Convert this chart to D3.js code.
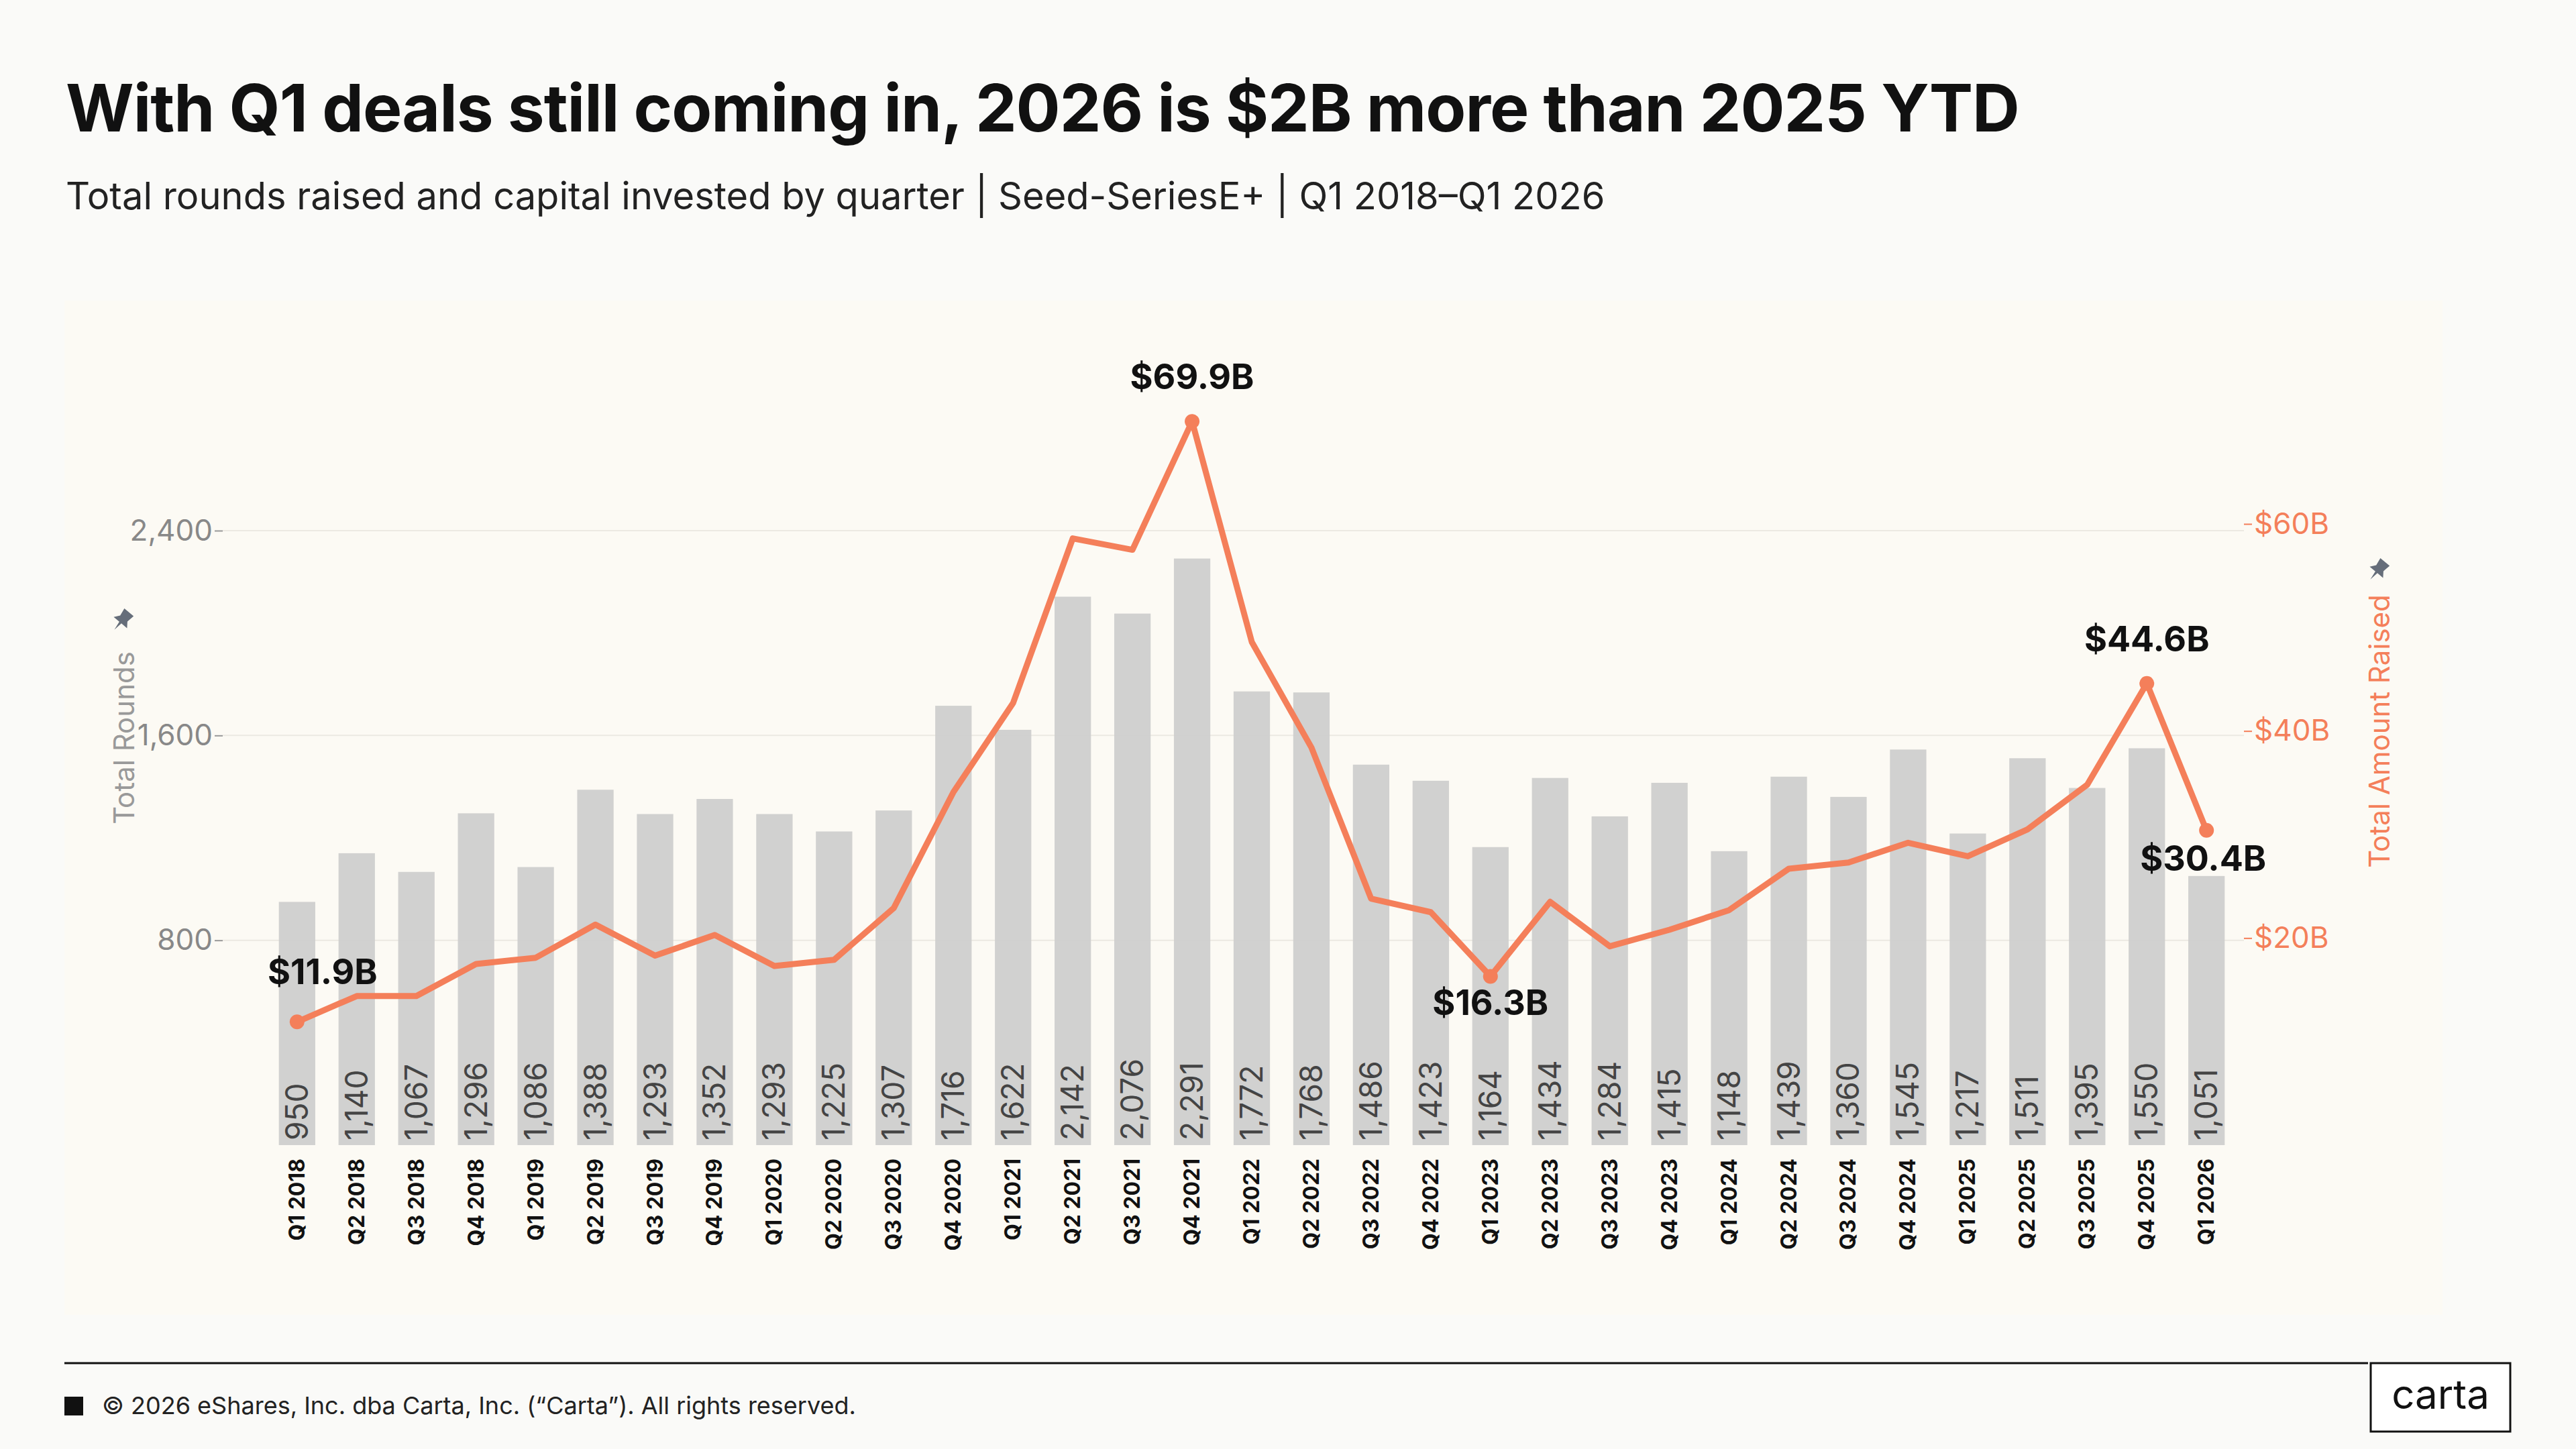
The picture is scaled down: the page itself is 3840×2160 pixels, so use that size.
<!DOCTYPE html>
<html>
<head>
<meta charset="utf-8">
<script src="https://cdn.jsdelivr.net/npm/d3@7"></script>
<style>
  body { margin: 0; background: #fafaf8; }
  svg { display: block; font-family: Inter, "Open Sans", sans-serif; }
</style>
</head>
<body>
<svg id="chart" width="3840" height="2160"></svg>
<script>
// data
var quarters = ["Q1 2018","Q2 2018","Q3 2018","Q4 2018","Q1 2019","Q2 2019","Q3 2019","Q4 2019",
  "Q1 2020","Q2 2020","Q3 2020","Q4 2020","Q1 2021","Q2 2021","Q3 2021","Q4 2021",
  "Q1 2022","Q2 2022","Q3 2022","Q4 2022","Q1 2023","Q2 2023","Q3 2023","Q4 2023",
  "Q1 2024","Q2 2024","Q3 2024","Q4 2024","Q1 2025","Q2 2025","Q3 2025","Q4 2025","Q1 2026"];
var rounds = [950,1140,1067,1296,1086,1388,1293,1352,1293,1225,1307,1716,1622,2142,2076,2291,
  1772,1768,1486,1423,1164,1434,1284,1415,1148,1439,1360,1545,1217,1511,1395,1550,1051];
var capital = [11.9,14.4,14.4,17.5,18.1,21.3,18.3,20.3,17.3,17.9,22.9,34.1,42.7,58.6,57.5,69.9,
  48.6,38.4,23.8,22.5,16.3,23.5,19.2,20.8,22.7,26.7,27.3,29.2,27.9,30.5,34.8,44.6,30.4];
var leftTicks = [800, 1600, 2400];
var rightTicks = [20, 40, 60];
// callouts: index, dx, dy
var callouts = [[0, 38, -56], [15, 0, -48], [20, 0, 58], [31, 0, -48], [32, -5, 60]];

var svg = d3.select("#chart");
var orange = "#f47f5a";

svg.append("rect").attr("width", 3840).attr("height", 2160).attr("fill", "#fafaf8");
svg.append("rect").attr("x", 96).attr("y", 448).attr("width", 3545).attr("height", 1512).attr("fill", "#fcfaf4");

svg.append("text").attr("x", 98).attr("y", 196).attr("font-size", 98).attr("font-weight", 700)
  .attr("fill", "#111").attr("letter-spacing", -1)
  .text("With Q1 deals still coming in, 2026 is $2B more than 2025 YTD");
svg.append("text").attr("x", 98).attr("y", 312).attr("font-size", 56).attr("fill", "#222")
  .text("Total rounds raised and capital invested by quarter |  Seed-SeriesE+ | Q1 2018–Q1 2026");

var x = d3.scaleBand().domain(quarters).range([381, 3351]).padding(0.39);
var y = d3.scaleLinear().domain([0, 2400]).range([1707, 791]);
var y2 = d3.scaleLinear().domain([0, 60]).range([1707, 781]);

// gridlines
var g = svg.append("g");
g.selectAll("line.grid").data(leftTicks).enter().append("line")
  .attr("x1", 332).attr("x2", 3345).attr("y1", y).attr("y2", y)
  .attr("stroke", "#ece9e2").attr("stroke-width", 2);

// left axis
var la = svg.append("g").attr("transform", "translate(332,0)")
  .call(d3.axisLeft(y).tickValues(leftTicks).tickFormat(d3.format(",")).tickSize(12));
la.select(".domain").remove();
la.selectAll("line").attr("stroke", "#999").attr("stroke-width", 2);
la.selectAll("text").attr("font-size", 44).attr("fill", "#888").attr("font-family", "Inter");

// right axis
var ra = svg.append("g").attr("transform", "translate(3345,0)")
  .call(d3.axisRight(y2).tickValues(rightTicks).tickFormat(function(d){ return "$" + d + "B"; }).tickSize(12));
ra.select(".domain").remove();
ra.selectAll("line").attr("stroke", orange).attr("stroke-width", 2);
ra.selectAll("text").attr("font-size", 44).attr("fill", orange).attr("font-family", "Inter");

svg.append("text").attr("transform", "translate(200,1100) rotate(-90)").attr("text-anchor", "middle")
  .attr("font-size", 42).attr("fill", "#999").text("Total Rounds");
svg.append("text").attr("transform", "translate(3562,1090) rotate(-90)").attr("text-anchor", "middle")
  .attr("font-size", 42).attr("fill", orange).text("Total Amount Raised");
// pin icons
[[182, 925], [3545, 850]].forEach(function(p) {
  svg.append("path").attr("transform", "translate(" + p[0] + "," + p[1] + ") rotate(40)")
    .attr("d", "M-9,-16 L9,-16 L7,-4 L13,4 L2,4 L0,18 L-2,4 L-13,4 L-7,-4 Z")
    .attr("fill", "#666e7a");
});

// bars
svg.selectAll("rect.bar").data(rounds).enter().append("rect")
  .attr("x", function(d, i){ return x(quarters[i]); })
  .attr("width", x.bandwidth())
  .attr("y", y).attr("height", function(d){ return y(0) - y(d); })
  .attr("fill", "#cfcfcd").attr("opacity", 0.95);

svg.selectAll("text.val").data(rounds).enter().append("text")
  .attr("transform", function(d, i){ return "translate(" + (x(quarters[i]) + x.bandwidth()/2 + 16) + ",1700) rotate(-90)"; })
  .attr("font-size", 46).attr("fill", "#444").text(d3.format(","));

svg.selectAll("text.q").data(quarters).enter().append("text")
  .attr("transform", function(d){ return "translate(" + (x(d) + x.bandwidth()/2 + 11) + ",1727) rotate(-90)"; })
  .attr("text-anchor", "end").attr("font-size", 32).attr("font-weight", 700).attr("fill", "#111")
  .text(function(d){ return d; });

// line
var cx = function(d, i){ return x(quarters[i]) + x.bandwidth()/2; };
svg.append("path").datum(capital)
  .attr("d", d3.line().x(cx).y(function(d){ return y2(d); }))
  .attr("fill", "none").attr("stroke", orange).attr("stroke-width", 9).attr("stroke-linejoin", "round");

callouts.forEach(function(c) {
  var i = c[0], px = cx(capital[i], i), py = y2(capital[i]);
  svg.append("circle").attr("cx", px).attr("cy", py).attr("r", 11).attr("fill", orange);
  svg.append("text").attr("x", px + c[1]).attr("y", py + c[2]).attr("text-anchor", "middle")
    .attr("font-size", 52).attr("font-weight", 700).attr("fill", "#111")
    .text("$" + capital[i].toFixed(1) + "B");
});

// footer
svg.append("line").attr("x1", 96).attr("x2", 3530).attr("y1", 2032).attr("y2", 2032)
  .attr("stroke", "#111").attr("stroke-width", 3);
svg.append("rect").attr("x", 96).attr("y", 2082).attr("width", 28).attr("height", 28).attr("fill", "#111");
svg.append("text").attr("x", 152).attr("y", 2108).attr("font-size", 36).attr("fill", "#222")
  .text("© 2026 eShares, Inc. dba Carta, Inc. (“Carta”). All rights reserved.");
svg.append("rect").attr("x", 3534).attr("y", 2032).attr("width", 208).attr("height", 102)
  .attr("fill", "#fff").attr("stroke", "#111").attr("stroke-width", 3);
svg.append("text").attr("x", 3638).attr("y", 2100).attr("text-anchor", "middle")
  .attr("font-size", 60).attr("fill", "#111").text("carta");
</script>
</body>
</html>
